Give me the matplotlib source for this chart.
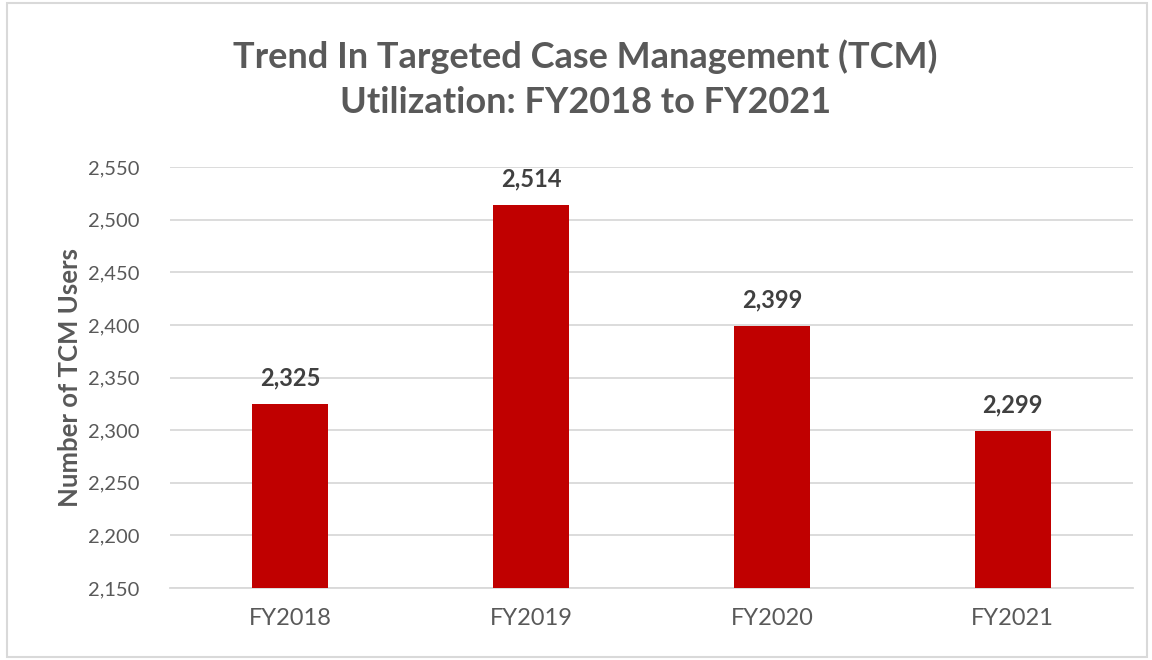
import matplotlib.pyplot as plt
from matplotlib.patches import Rectangle
from matplotlib.ticker import FuncFormatter

categories = ['FY2018', 'FY2019', 'FY2020', 'FY2021']
users = [2325, 2514, 2399, 2299]
y_ticks = [2150, 2200, 2250, 2300, 2350, 2400, 2450, 2500, 2550]

bar_color = '#C00000'
text_gray = '#595959'

plt.rcParams['font.family'] = ['Lato', 'DejaVu Sans']

fig = plt.figure(figsize=(11.52, 6.6), dpi=100)
ax = fig.add_axes([0.1476, 0.109, 0.8359, 0.638])

x = list(range(len(categories)))
bars = ax.bar(x, users, width=0.315, color=bar_color, zorder=3)

# value labels above each bar
for xi, v in zip(x, users):
    ax.text(xi, v + 14, f'{v:,}', ha='center', va='bottom',
            fontsize=17, fontweight='bold', color='#404040')

ax.set_xlim(-0.5, len(categories) - 0.5)
ax.set_ylim(2150, 2550)
ax.set_yticks(y_ticks)
ax.yaxis.set_major_formatter(FuncFormatter(lambda v, p: f'{int(v):,}'))
ax.set_xticks(x)
ax.set_xticklabels(categories)

ax.grid(axis='y', color='#D9D9D9', linewidth=1.3, zorder=0)
for s in ['top', 'right', 'left']:
    ax.spines[s].set_visible(False)
ax.spines['bottom'].set_color('#D9D9D9')
ax.spines['bottom'].set_linewidth(1.3)
ax.tick_params(axis='both', length=0, colors=text_gray)
ax.tick_params(axis='y', labelsize=14.5, pad=22)
ax.tick_params(axis='x', labelsize=17, pad=14)

ax.set_ylabel('Number of TCM Users', fontsize=18.5, fontweight='bold',
              color=text_gray, labelpad=4)

fig.text(0.508, 0.88, 'Trend In Targeted Case Management (TCM)\nUtilization: FY2018 to FY2021',
         ha='center', va='center', fontsize=26, fontweight='bold',
         color=text_gray, linespacing=1.45)

fig.patches.append(Rectangle((0.006, 0.004), 0.99, 0.992, transform=fig.transFigure,
                             fill=False, edgecolor='#D9D9D9', linewidth=1.5))

fig.savefig('out.png', dpi=100)
